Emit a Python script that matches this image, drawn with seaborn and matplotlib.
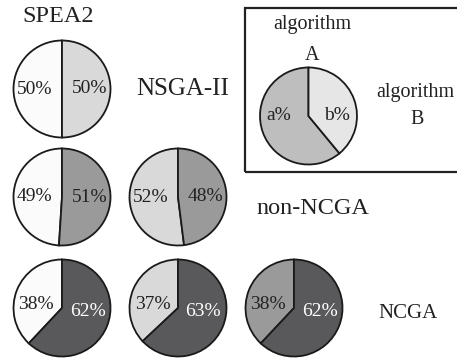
import matplotlib
matplotlib.use('Agg')
import matplotlib.pyplot as plt
from matplotlib.patches import Rectangle
import seaborn as sns

sns.set_theme(style='white')
plt.rcParams['font.family'] = ['Liberation Serif', 'DejaVu Serif']

# ---- data ----
row_algs = ['NSGA-II', 'non-NCGA', 'NCGA']
col_algs = ['SPEA2', 'NSGA-II', 'non-NCGA']
# shares[row][col] = (column-algorithm share, row-algorithm share) in %
shares = [
    [(50, 50)],
    [(49, 51), (52, 48)],
    [(38, 62), (37, 63), (38, 62)],
]
alg_colors = {'SPEA2': '#fbfbfb', 'NSGA-II': '#d9d9d9',
              'non-NCGA': '#9a9a9a', 'NCGA': '#59595b'}
legend_shares = [61, 39]
legend_labels = ['a%', 'b%']
legend_colors = ['#bebebe', '#e6e6e6']

W, H = 457, 358
fig = plt.figure(figsize=(W / 100, H / 100), dpi=100)
ax = fig.add_axes([0, 0, 1, 1])

R = 48.5
col_x = [62, 178, 294]
row_y = [89, 197, 308]
PCT = 14
LAB = 17.5
LEG = 14.5
edge = dict(edgecolor='#1a1a1a', linewidth=1.3)


def Y(y):
    return H - y


def draw_pie(vals, cols, cx, cy, labels=None):
    res = ax.pie(vals, colors=cols, startangle=90, counterclock=True,
                 center=(cx, Y(cy)), radius=R, wedgeprops=edge, frame=True,
                 autopct=(lambda p: f'{p:.0f}%') if labels is None else None,
                 pctdistance=0.57, textprops=dict(fontsize=PCT))
    if labels is None:
        texts = res[2]
        for i, t in enumerate(texts):
            x, y = t.get_position()
            t.set_position((x, Y(cy) + (y - Y(cy)) * 0.3))
            t.set_color('white' if cols[i] == alg_colors['NCGA'] else '#222222')


for r, ralg in enumerate(row_algs):
    for c in range(r + 1):
        calg = col_algs[c]
        draw_pie(list(shares[r][c]), [alg_colors[calg], alg_colors[ralg]],
                 col_x[c], row_y[r])

# row / column labels
ax.text(58, Y(16), 'SPEA2', fontsize=LAB, ha='center', va='center', color='#222')
ax.text(183, Y(89), 'NSGA-II', fontsize=18, ha='center', va='center', color='#222')
ax.text(313, Y(208), 'non-NCGA', fontsize=LAB, ha='center', va='center', color='#222')
ax.text(408, Y(313), 'NCGA', fontsize=15, ha='center', va='center', color='#222')

# legend box
ax.add_patch(Rectangle((245, Y(172)), 230, 164, fill=False, lw=1.6,
                       ec='#222222', clip_on=False))
draw_pie(legend_shares, legend_colors, 308.5, 116, labels=legend_labels)
ax.text(279, Y(116), legend_labels[0], fontsize=PCT, ha='center', va='center', color='#222')
ax.text(337, Y(115), legend_labels[1], fontsize=PCT, ha='center', va='center', color='#222')
ax.text(312, Y(24), 'algorithm', fontsize=LEG, ha='center', va='center', color='#222')
ax.text(312, Y(55), 'A', fontsize=LEG, ha='center', va='center', color='#222')
ax.text(415, Y(92), 'algorithm', fontsize=LEG, ha='center', va='center', color='#222')
ax.text(417, Y(119), 'B', fontsize=LEG, ha='center', va='center', color='#222')

ax.set_xlim(0, W)
ax.set_ylim(0, H)
ax.set_aspect('equal')
ax.axis('off')
fig.savefig('out.png', dpi=100)
